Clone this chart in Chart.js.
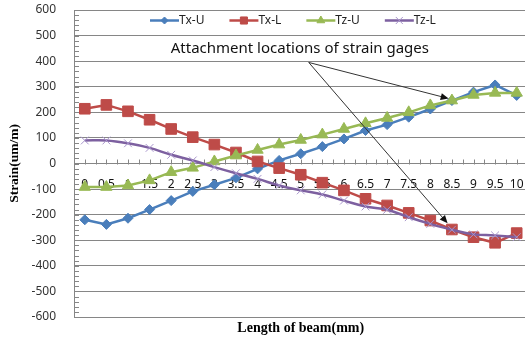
<!DOCTYPE html>
<html>
<head>
<meta charset="utf-8">
<script src="https://cdn.jsdelivr.net/npm/chart.js@4/dist/chart.umd.min.js"></script>
<style>
  html, body { margin: 0; padding: 0; background: #fff; overflow: hidden; }
  #wrap { width: 536px; height: 339px; position: relative; }
</style>
</head>
<body>
<div id="wrap"><canvas id="chart"></canvas></div>
<script>
// ========================
// DATA
// ========================
const categories = ["0", "0.5", "1", "1.5", "2", "2.5", "3", "3.5", "4", "4.5", "5",
  "5.5", "6", "6.5", "7", "7.5", "8", "8.5", "9", "9.5", "10"];

const txU = [-220, -238, -214, -180, -145, -109, -83, -56, -21, 12, 38, 66, 96, 129, 152, 181, 213, 246, 279, 307, 266];
const txL = [214, 229, 204, 171, 135, 103, 74, 43, 8, -18, -44, -75, -105, -138, -164, -193, -223, -258, -288, -310, -272];
const tzU = [-92, -92, -86, -66, -34, -17, 8, 31, 53, 74, 92, 113, 135, 157, 178, 200, 227, 246, 268, 276, 276];
const tzL = [90, 90, 79, 61, 34, 12, -14, -38, -60, -86, -105, -121, -145, -168, -181, -210, -236, -259, -277, -281, -288];

const yMin = -600;
const yMax = 600;
const xTitle = "Length of beam(mm)";

// annotation anchors, in data units (category index, strain)
const noteText = "Attachment locations of strain gages";
const noteAt = [3.98, 450];
const arrowFrom = [10.37, 395];
const arrowTo = [[16.85, 254], [16.8, -234]];

// ========================
// Plugins
// ========================
const GRID = "#868686";

// small tick marks like the Excel axes
const axisTicks = {
  id: "axisTicks",
  beforeDatasetsDraw(chart) {
    const { ctx, chartArea: a, scales: { x, y } } = chart;
    ctx.save();
    ctx.strokeStyle = GRID;
    ctx.lineWidth = 1;
    ctx.beginPath();
    for (let v = yMin; v <= yMax; v += 20) {
      const py = Math.round(y.getPixelForValue(v)) + 0.5;
      ctx.moveTo(a.left, py);
      ctx.lineTo(a.left + 5, py);
    }
    const y0 = Math.round(y.getPixelForValue(0)) + 0.5;
    for (let i = -0.5; i <= categories.length - 0.5; i += 0.5) {
      const px = Math.round(x.getPixelForValue(i)) + 0.5;
      ctx.moveTo(px, y0);
      ctx.lineTo(px, y0 - 5);
    }
    ctx.stroke();
    ctx.restore();
  }
};

// legend with line + marker, x title, and the arrow note
const extras = {
  id: "extras",
  afterDraw(chart) {
    const { ctx, chartArea: a, scales: { x, y } } = chart;
    ctx.save();

    // legend
    let lx = a.left + 76;
    const ly = a.top + 10.5;
    ctx.font = "12px 'Noto Sans'";
    ctx.textBaseline = "middle";
    chart.data.datasets.forEach(ds => {
      ctx.strokeStyle = ds.borderColor;
      ctx.lineWidth = 2.5;
      ctx.beginPath();
      ctx.moveTo(lx, ly);
      ctx.lineTo(lx + 29, ly);
      ctx.stroke();
      ctx.fillStyle = ds.pointBackgroundColor;
      ctx.strokeStyle = ds.pointBorderColor;
      ctx.lineWidth = ds.pointBorderWidth;
      Chart.helpers.drawPoint(ctx, {
        pointStyle: ds.pointStyle, rotation: 0,
        radius: ds.legendRadius, borderWidth: ds.pointBorderWidth
      }, lx + 14.5, ly);
      ctx.fillStyle = "#222";
      ctx.fillText(ds.label, lx + 29, ly + 0.5);
      lx += 29 + ctx.measureText(ds.label).width + 25;
    });

    // x axis title, centred on the plot area
    ctx.font = "bold 14px 'Liberation Serif'";
    ctx.fillStyle = "#000";
    ctx.textAlign = "center";
    ctx.fillText(xTitle, (a.left + a.right) / 2, a.bottom + 11);

    // note text
    ctx.font = "15px 'Noto Sans'";
    ctx.fillStyle = "#111";
    ctx.textAlign = "left";
    ctx.fillText(noteText, x.getPixelForValue(noteAt[0]), y.getPixelForValue(noteAt[1]));

    // arrows
    const sx = x.getPixelForValue(arrowFrom[0]);
    const sy = y.getPixelForValue(arrowFrom[1]);
    arrowTo.forEach(t => {
      const ex = x.getPixelForValue(t[0]);
      const ey = y.getPixelForValue(t[1]);
      const ang = Math.atan2(ey - sy, ex - sx);
      ctx.strokeStyle = "#333";
      ctx.lineWidth = 1;
      ctx.beginPath();
      ctx.moveTo(sx, sy);
      ctx.lineTo(ex - 6 * Math.cos(ang), ey - 6 * Math.sin(ang));
      ctx.stroke();
      ctx.fillStyle = "#111";
      ctx.beginPath();
      ctx.moveTo(ex, ey);
      ctx.lineTo(ex - 8 * Math.cos(ang) + 3.5 * Math.sin(ang), ey - 8 * Math.sin(ang) - 3.5 * Math.cos(ang));
      ctx.lineTo(ex - 8 * Math.cos(ang) - 3.5 * Math.sin(ang), ey - 8 * Math.sin(ang) + 3.5 * Math.cos(ang));
      ctx.closePath();
      ctx.fill();
    });

    ctx.restore();
  }
};

// ========================
// Chart
// ========================
function series(label, data, color, style, radius, legendRadius, order, extra) {
  return Object.assign({
    label, data, order,
    borderColor: color,
    backgroundColor: color,
    borderWidth: 2.5,
    pointStyle: style,
    pointRadius: radius,
    legendRadius,
    pointBackgroundColor: color,
    pointBorderColor: color,
    pointBorderWidth: 1,
    tension: 0,
    fill: false
  }, extra || {});
}

const ctx = document.getElementById("chart").getContext("2d");

new Chart(ctx, {
  type: "line",
  data: {
    labels: categories,
    datasets: [
      series("Tx-U", txU, "#4A7EBB", "rectRot", 5, 3.5, 4),
      series("Tx-L", txL, "#BE4B48", "rect", 7.5, 5, 3),
      series("Tz-U", tzU, "#98B954", "triangle", 6.5, 4.5, 2),
      series("Tz-L", tzL, "#7D60A0", "crossRot", 5.5, 5, 1, {
        tension: 0.4,
        cubicInterpolationMode: "default",
        pointBorderColor: "#A996CC",
        pointBackgroundColor: "#A996CC"
      })
    ]
  },
  options: {
    responsive: true,
    maintainAspectRatio: false,
    animation: false,
    layout: { padding: { top: 10, left: 0, right: 0, bottom: 22 } },
    plugins: {
      legend: { display: false },
      tooltip: { enabled: false },
      title: { display: false }
    },
    scales: {
      x: {
        type: "category",
        position: { y: 0 },
        offset: true,
        afterFit(scale) {
          scale.height = 0;
          scale.paddingLeft = 0;
          scale.paddingRight = 0;
        },
        grid: { display: true, drawOnChartArea: false, drawTicks: false },
        border: { display: true, color: GRID, width: 1 },
        ticks: {
          autoSkip: false, maxRotation: 0, padding: 14,
          color: "#111",
          font: { family: "'Noto Sans'", size: 12 }
        }
      },
      y: {
        min: yMin,
        max: yMax,
        afterFit(scale) {
          scale.width = 74;
          scale.paddingTop = 0;
          scale.paddingBottom = 0;
        },
        grid: { color: GRID, drawTicks: false, lineWidth: 1 },
        border: { display: true, color: GRID, width: 1 },
        ticks: {
          stepSize: 100, padding: 18,
          color: "#333",
          font: { family: "'Noto Sans'", size: 12 }
        },
        title: {
          display: true,
          text: "Strain(um/m)",
          color: "#000",
          font: { family: "'Liberation Serif'", size: 13.5, weight: "bold" },
          padding: { top: 6, bottom: 0 }
        }
      }
    }
  },
  plugins: [axisTicks, extras]
});
</script>
</body>
</html>
